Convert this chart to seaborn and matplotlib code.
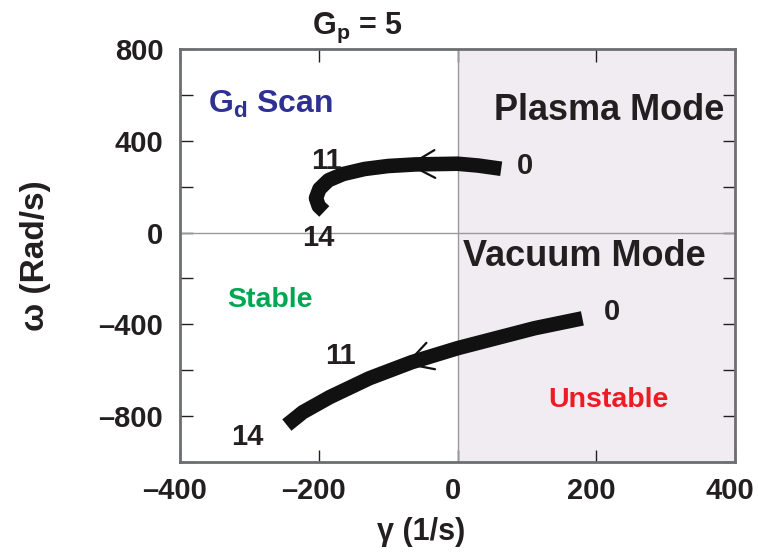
import matplotlib
matplotlib.use("Agg")
import matplotlib.pyplot as plt
import matplotlib.transforms as mtransforms
import seaborn as sns
import pandas as pd
from matplotlib.ticker import MultipleLocator

# ---- data ----
plasma_gamma = [63, 30, 0, -60, -100, -134, -165, -186, -199, -204, -200, -192]
plasma_omega = [278, 292, 300, 297, 290, 277, 255, 228, 190, 150, 115, 92]

vacuum_gamma = [180, 111, 0, -66, -127, -184, -223, -246]
vacuum_omega = [-374, -417, -504, -565, -635, -717, -783, -839]

plasma_label_text = ["0", "11", "14"]
plasma_label_gamma = [97, -189, -200]
plasma_label_omega = [291, 313, -22]

vacuum_label_text = ["0", "11", "14"]
vacuum_label_gamma = [223, -169, -303]
vacuum_label_omega = [-348, -539, -891]

x_ticks = [-400, -200, 0, 200, 400]
y_ticks = [-800, -400, 0, 400, 800]

sns.set_style("ticks")
plt.rcParams["font.family"] = ["Liberation Sans", "DejaVu Sans"]
plt.rcParams["font.weight"] = "bold"
plt.rcParams["mathtext.fontset"] = "custom"
plt.rcParams["mathtext.rm"] = "Liberation Sans:bold"
plt.rcParams["mathtext.bf"] = "Liberation Sans:bold"
plt.rcParams["mathtext.it"] = "Liberation Sans:bold"

fig = plt.figure(figsize=(7.58, 5.56), dpi=100)
ax = fig.add_axes([180 / 758, 94 / 556, 555 / 758, 413 / 556])

ax.set_xlim(-400, 400)
ax.set_ylim(-1000, 800)

# shaded unstable half-plane
ax.axvspan(0, 400, color="#f1ecf1", zorder=0, lw=0)
ax.axvline(0, color="#9a9a9a", lw=1.0, zorder=1)
ax.axhline(0, color="#9a9a9a", lw=1.0, zorder=1)

plasma = pd.DataFrame({"gamma": plasma_gamma, "omega": plasma_omega})
vacuum = pd.DataFrame({"gamma": vacuum_gamma, "omega": vacuum_omega})

for df in (plasma, vacuum):
    sns.lineplot(data=df, x="gamma", y="omega", sort=False, estimator=None,
                 color="#111111", lw=10.5, solid_capstyle="butt",
                 solid_joinstyle="round", ax=ax, zorder=3)

# chevrons showing direction of increasing Gd
def chevron(tip, tail):
    ax.annotate("", xy=tip, xytext=tail,
                arrowprops=dict(arrowstyle="->,head_length=0.9,head_width=0.5",
                                color="#111111", lw=1.6, mutation_scale=20,
                                shrinkA=0, shrinkB=0), zorder=4)

chevron((-72, 295), (-20, 300))
chevron((-76, -575), (-10, -510))

for t, g, o in zip(plasma_label_text, plasma_label_gamma, plasma_label_omega):
    ax.text(g, o, t, fontsize=21, fontweight="bold", color="#231f20",
            ha="center", va="center", zorder=5)
for t, g, o in zip(vacuum_label_text, vacuum_label_gamma, vacuum_label_omega):
    ax.text(g, o, t, fontsize=21, fontweight="bold", color="#231f20",
            ha="center", va="center", zorder=5)

ax.text(-270, 557, r"G$_\mathrm{d}$ Scan", fontsize=23, fontweight="bold",
        color="#2e3192", ha="center", va="center")
ax.text(219, 530, "Plasma Mode", fontsize=26, fontweight="bold",
        color="#231f20", ha="center", va="center")
ax.text(183, -104, "Vacuum Mode", fontsize=26, fontweight="bold",
        color="#231f20", ha="center", va="center")
ax.text(-271, -296, "Stable", fontsize=20.5, fontweight="bold",
        color="#00a651", ha="center", va="center")
ax.text(217, -730, "Unstable", fontsize=20.5, fontweight="bold",
        color="#ed1c24", ha="center", va="center")

# title (placed left of center as in the reference)
ax.text(-145, 1.05, r"G$_\mathrm{p}$ = 5", transform=ax.get_xaxis_transform(),
        fontsize=22, fontweight="bold", color="#231f20", ha="center", va="center")

ax.set_xticks(x_ticks)
ax.set_yticks(y_ticks)
ax.set_xticklabels([f"{v}".replace("-", "\u2013") for v in x_ticks])
ax.set_yticklabels([f"{v}".replace("-", "\u2013") for v in y_ticks])
ax.yaxis.set_minor_locator(MultipleLocator(200))
ax.tick_params(axis="both", which="both", direction="in", length=9, width=1.0,
               color="#231f20", top=True, right=True, labelsize=21,
               labelcolor="#231f20")
ax.tick_params(axis="x", pad=11)
ax.tick_params(axis="y", pad=12)
shift = mtransforms.ScaledTranslation(-5 / 100, 0, fig.dpi_scale_trans)
for lab in ax.get_xticklabels():
    lab.set_fontweight("bold")
    lab.set_transform(lab.get_transform() + shift)
for lab in ax.get_yticklabels():
    lab.set_fontweight("bold")

ax.set_xlabel("\u03b3 (1/s)", fontsize=22, fontweight="bold", color="#231f20")
ax.set_ylabel("\u03c9 (Rad/s)", fontsize=24, fontweight="bold", color="#231f20")
ax.xaxis.set_label_coords(0.435, -0.132)
ax.yaxis.set_label_coords(-0.232, 0.5)

for s in ax.spines.values():
    s.set_color("#6d6e71")
    s.set_linewidth(2.0)
    s.set_zorder(6)

fig.savefig("out.png", dpi=100, facecolor="white")
